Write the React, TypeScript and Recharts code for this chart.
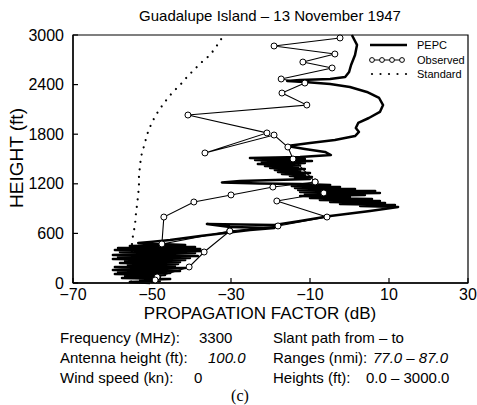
import React from 'react';
import { ScatterChart, Scatter, XAxis, YAxis, ReferenceArea } from 'recharts';

// ---- data ----
const xTicks = [-70, -50, -30, -10, 10, 30];
const yTicks = [0, 600, 1200, 1800, 2400, 3000];

const pepcDb = [
  0.6, 1.9, 1.4, 0.4, -0.1, -1.1, -4.9, -12.5, -15.8, -11.3, -4.9, 0.1, 4.4, 7.5, 8.5, 7.7, 4.9, 2.2, 1.6, 2.4,
  1.4, -3.7, -10.0, -15.8, -11.3, -6.2, -4.7, -12.5, -25.2, -11.3, -23.9, -9.5, -22.2, -11.3, -23.2, -12.5, -21.4, -13.0, -20.1, -11.3,
  -18.9, -12.5, -18.1, -10.0, -17.1, -11.3, -15.1, -9.5, -13.8, -10.0, -27.7, -32.3, -22.7, -12.5, -4.9, -14.6, -2.4, -13.8, 1.4, -13.0,
  6.5, -12.5, 7.7, -11.3, 3.9, -12.5, 0.1, -10.0, 5.7, -7.5, 7.7, -4.9, 9.0, -2.4, 11.5, 2.7, 12.3, 5.2, -4.9, -12.5,
  -19.0, -36.1, -30.3, -19.0, -25.2, -31.5, -37.8, -45.4, -50.5, -53.5, -41.6, -55.6, -39.1, -58.6, -37.8, -59.4, -36.6, -58.1, -39.1, -59.9,
  -38.4, -58.6, -40.4, -59.9, -41.6, -56.8, -42.9, -58.1, -43.4, -56.1, -44.2, -59.4, -41.6, -59.9, -42.9, -58.6, -45.4, -59.4, -46.7, -56.8,
  -48.0, -57.6, -45.4, -53.0, -48.0, -55.6, -50.5,
];
const pepcHeight = [
  3000, 2880, 2758, 2637, 2552, 2492, 2468, 2456, 2444, 2432, 2407, 2371, 2311, 2238, 2153, 2069, 1996, 1936, 1875, 1827,
  1778, 1730, 1694, 1657, 1621, 1585, 1548, 1524, 1512, 1500, 1488, 1476, 1464, 1452, 1440, 1427, 1415, 1403, 1391, 1379,
  1367, 1355, 1343, 1331, 1319, 1306, 1294, 1282, 1270, 1258, 1234, 1216, 1204, 1198, 1186, 1173, 1161, 1149, 1137, 1125,
  1113, 1101, 1089, 1077, 1065, 1052, 1040, 1028, 1016, 1004, 992, 980, 968, 956, 944, 931, 919, 871, 810, 750,
  702, 714, 677, 665, 641, 605, 569, 520, 496, 484, 460, 448, 435, 423, 411, 399, 387, 375, 363, 339,
  327, 315, 302, 290, 278, 266, 254, 242, 230, 218, 206, 194, 181, 157, 145, 133, 121, 109, 97, 85,
  73, 60, 48, 36, 24, 12, 0,
];

const observedDb = [
  -2.4, -19.1, -3.7, -11.8, -4.4, -17.3, -11.3, -17.1, -10.8, -40.9, -20.9, -36.6, -19.1, -15.6, -14.3, -8.7, -6.5,
  -18.4, -5.7, -18.1, -30.3, -36.8, -40.6, -48.7, -49.2,
];
const observedHeight = [
  2964, 2867, 2770, 2673, 2601, 2468, 2419, 2298, 2153, 2032, 1815, 1573, 1790, 1645, 1500, 1222, 1089,
  992, 798, 690, 629, 375, 194, 73, 36,
];
const observed2Db = [-8.7, -19.4, -30.0, -39.4, -47.0, -47.5, -30.3];
const observed2Height = [1222, 1161, 1065, 980, 798, 472, 629];

const standardDb = [
  -32.5, -33.8, -35.3, -37.1, -38.9, -40.9, -42.9, -44.7, -46.2, -47.5, -48.7, -49.7, -50.5, -51.3, -51.8, -52.3,
  -52.8, -53.0, -53.3, -53.3, -53.5, -53.8, -54.1, -54.3, -54.8, -55.1, -55.1, -55.3,
];
const standardHeight = [
  2950, 2855, 2758, 2686, 2601, 2504, 2395, 2311, 2226, 2141, 2056, 1972, 1887, 1790, 1694, 1609,
  1524, 1427, 1306, 1185, 1065, 944, 823, 702, 581, 460, 278, 0,
];

const zip = (xs: number[], ys: number[]) => xs.map((x, i) => ({ x, y: ys[i] }));
const pepcData = zip(pepcDb, pepcHeight);
const observedData = zip(observedDb, observedHeight);
const observed2Data = zip(observed2Db, observed2Height);
const standardData = zip(standardDb, standardHeight);

const FONT = '"Liberation Sans", Arial, Helvetica, sans-serif';

const NoDot = () => <g />;
const OpenCircle = (p: any) => (
  <circle cx={p.cx} cy={p.cy} r={3} fill="#fff" stroke="#000" strokeWidth={1} />
);

export default function App() {
  return (
    <div style={{ position: 'absolute', left: 0, top: 0, width: 477, height: 405, background: '#fff' }}>
      <ScatterChart width={477} height={405} margin={{ top: 35, right: 9, bottom: 92, left: 23 }}>
        <XAxis
          type="number"
          dataKey="x"
          domain={[-70, 30]}
          ticks={xTicks}
          tickFormatter={(v: number) => (v < 0 ? '\u2212' + Math.abs(v) : String(v))}
          tickSize={-5}
          tickMargin={11}
          height={30}
          axisLine={{ stroke: '#000', strokeWidth: 1.3 }}
          tickLine={{ stroke: '#000', strokeWidth: 1.2 }}
          tick={{ fill: '#000', fontSize: 16, fontFamily: FONT }}
          interval={0}
        />
        <YAxis
          type="number"
          dataKey="y"
          domain={[0, 3000]}
          ticks={yTicks}
          tickSize={-5}
          tickMargin={14}
          width={50}
          axisLine={{ stroke: '#000', strokeWidth: 1.3 }}
          tickLine={{ stroke: '#000', strokeWidth: 1.2 }}
          tick={{ fill: '#000', fontSize: 16, fontFamily: FONT }}
          interval={0}
        />
        <ReferenceArea x1={-70} x2={30} y1={0} y2={3000} fill="none" stroke="#000" strokeWidth={1.2} />
        <Scatter
          data={standardData}
          isAnimationActive={false}
          line={{ stroke: '#000', strokeWidth: 2.2, strokeDasharray: '0.01 7.5', strokeLinecap: 'round' }}
          lineType="joint"
          shape={NoDot}
        />
        <Scatter
          data={pepcData}
          isAnimationActive={false}
          line={{ stroke: '#000', strokeWidth: 2.5, strokeLinejoin: 'round' }}
          lineType="joint"
          shape={NoDot}
        />
        <Scatter
          data={observed2Data}
          isAnimationActive={false}
          line={{ stroke: '#000', strokeWidth: 1.1 }}
          lineType="joint"
          shape={OpenCircle}
        />
        <Scatter
          data={observedData}
          isAnimationActive={false}
          line={{ stroke: '#000', strokeWidth: 1.1 }}
          lineType="joint"
          shape={OpenCircle}
        />
      </ScatterChart>
      <svg
        width={477}
        height={405}
        style={{ position: 'absolute', left: 0, top: 0, pointerEvents: 'none' }}
        fontFamily={FONT}
      >
        <text x={270} y={20.5} textAnchor="middle" fontSize={15} fill="#000">
          Guadalupe Island – 13 November 1947
        </text>
        <text x={260} y={319} textAnchor="middle" fontSize={17} fill="#000">
          PROPAGATION FACTOR (dB)
        </text>
        <text
          x={0}
          y={0}
          transform="translate(22.5,158) rotate(-90)"
          textAnchor="middle"
          fontSize={19}
          fill="#000"
        >
          HEIGHT (ft)
        </text>
        {/* legend */}
        <line x1={370} y1={45} x2={407} y2={45} stroke="#000" strokeWidth={2.5} />
        <text x={417} y={49} fontSize={11} fill="#000">PEPC</text>
        <line x1={371} y1={60} x2={402} y2={60} stroke="#000" strokeWidth={1} />
        {[372, 382, 392, 402].map((cx) => (
          <circle key={cx} cx={cx} cy={60} r={2.4} fill="#fff" stroke="#000" strokeWidth={1} />
        ))}
        <text x={417} y={64} fontSize={11} fill="#000">Observed</text>
        {[372, 380.5, 389, 397.5, 406].map((cx) => (
          <circle key={cx} cx={cx} cy={74} r={1.1} fill="#000" />
        ))}
        <text x={417} y={78} fontSize={11} fill="#000">Standard</text>
        {/* info block */}
        <g fontSize={15} fill="#000">
          <text x={60} y={342.5}>Frequency (MHz):</text>
          <text x={199} y={342.5}>3300</text>
          <text x={60} y={362.5}>Antenna height (ft):</text>
          <text x={208} y={362.5} fontStyle="italic">100.0</text>
          <text x={60} y={382.5}>Wind speed (kn):</text>
          <text x={194} y={382.5}>0</text>
          <text x={273} y={342.5}>Slant path from – to</text>
          <text x={273} y={362.5}>Ranges (nmi):</text>
          <text x={373} y={362.5} fontStyle="italic">77.0 – 87.0</text>
          <text x={273} y={382.5}>Heights (ft):</text>
          <text x={366} y={382.5}>0.0 – 3000.0</text>
        </g>
        <text x={240} y={401} textAnchor="middle" fontSize={16} fontFamily='"Liberation Serif", "Times New Roman", serif' fill="#000">
          (c)
        </text>
      </svg>
    </div>
  );
}
